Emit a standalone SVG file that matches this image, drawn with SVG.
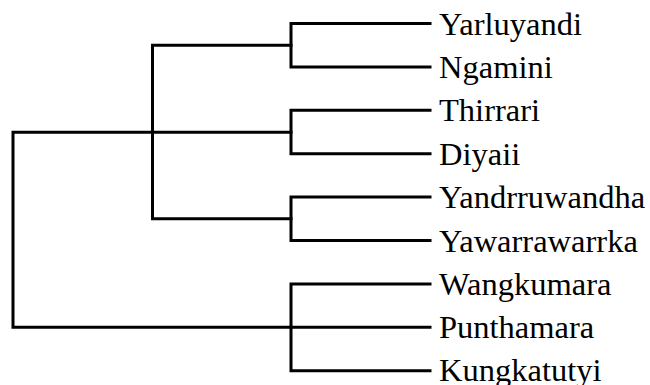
<svg xmlns="http://www.w3.org/2000/svg" width="650" height="385" viewBox="0 0 650 385">
  <style>
    .edge { fill: none; stroke: #000; stroke-width: 3; stroke-linecap: square; }
    .label { font-family: "Liberation Serif", "Times New Roman", serif; font-size: 32.5px; fill: #000; }
  </style>
  <rect width="650" height="385" fill="#fff"/>
  <g id="connectors">
    <!-- root -->
    <path class="edge" d="M152.5,132.3 H13 V327.3 H291"/>
    <!-- upper clade -->
    <path class="edge" d="M291,45.2 H152.5 V218.8 H291"/>
    <path class="edge" d="M152.5,132.3 H291"/>
    <!-- pairs -->
    <path class="edge" d="M430,23.5 H291 V66.9 H430"/>
    <path class="edge" d="M430,110.3 H291 V153.7 H430"/>
    <path class="edge" d="M430,197.1 H291 V240.5 H430"/>
    <path class="edge" d="M430,283.9 H291 V370.7 H430"/>
    <path class="edge" d="M291,327.3 H430"/>
  </g>
  <g id="leaf-yarluyandi"><text class="label" x="439" y="34.5">Yarluyandi</text></g>
  <g id="leaf-ngamini"><text class="label" x="439" y="77.9">Ngamini</text></g>
  <g id="leaf-thirrari"><text class="label" x="439" y="121.3">Thirrari</text></g>
  <g id="leaf-diyaii"><text class="label" x="439" y="164.7">Diyaii</text></g>
  <g id="leaf-yandrruwandha"><text class="label" x="439" y="208.1">Yandrruwandha</text></g>
  <g id="leaf-yawarrawarrka"><text class="label" x="439" y="251.5">Yawarrawarrka</text></g>
  <g id="leaf-wangkumara"><text class="label" x="439" y="294.9">Wangkumara</text></g>
  <g id="leaf-punthamara"><text class="label" x="439" y="338.3">Punthamara</text></g>
  <g id="leaf-kungkatutyi"><text class="label" x="439" y="381">Kungkatutyi</text></g>
</svg>
